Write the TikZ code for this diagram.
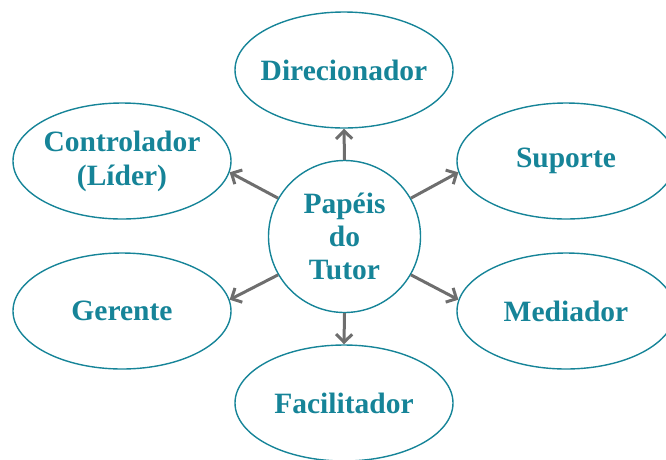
\documentclass[tikz,border=0pt]{standalone}
\usepackage{fontspec}
\setmainfont{Liberation Serif}
\usetikzlibrary{shapes.geometric,arrows.meta}
\definecolor{teal1}{RGB}{22,132,152}
\definecolor{arrgray}{RGB}{110,110,110}
\begin{document}
\begin{tikzpicture}[x=1pt,y=1pt,
  role/.style={ellipse,draw=teal1,line width=1.4pt,minimum width=218pt,minimum height=116pt,
    inner xsep=-25pt,inner ysep=-10pt,
    text=teal1,font=\fontsize{29.5}{34}\selectfont\bfseries,align=center},
  hub/.style={circle,draw=teal1,line width=1.4pt,minimum size=152pt,inner sep=0pt,
    text=teal1,font=\fontsize{29.5}{33}\selectfont\bfseries,align=center},
  arr/.style={draw=arrgray,line width=3pt,-{Straight Barb[length=8pt,width=16pt]}}]
\useasboundingbox (0,0) rectangle (666,-459);
\node[hub] (c) at (344.5,-236.5) {Papéis\\do\\Tutor};
\node[role] (dir) at (344,-70) {Direcionador};
\node[role] (ctrl) at (122,-161) {Controlador\\(Líder)};
\node[role] (sup) at (566,-161) {Suporte};
\node[role] (ger) at (122,-311) {Gerente};
\node[role] (med) at (566,-311) {Mediador};
\node[role] (fac) at (344,-403) {Facilitador};
\draw[arr] (c.90) -- (dir.270);
\draw[arr] (c.270) -- (fac.90);
\draw[arr] (c.150) -- (ctrl.354);
\draw[arr] (c.30) -- (sup.186);
\draw[arr] (c.210) -- (ger.6);
\draw[arr] (c.330) -- (med.174);
\end{tikzpicture}
\end{document}
